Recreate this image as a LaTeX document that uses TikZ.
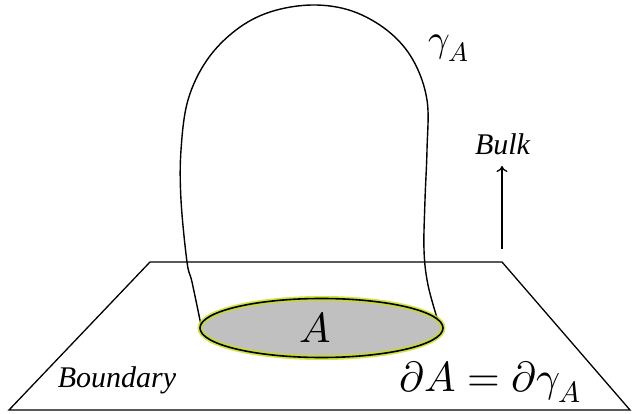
\documentclass[tikz,border=0pt]{standalone}
\usepackage{fontspec}
\usepackage{unicode-math}
\setmainfont{Liberation Serif}
\setmathfont{Latin Modern Math}
\usetikzlibrary{arrows.meta}
\definecolor{halo}{RGB}{200,222,20}
\definecolor{regiongray}{RGB}{192,192,192}
\tikzset{
  thinline/.style={line width=1.3pt, black},
  lbl/.style={anchor=base, inner sep=0pt},
}
\begin{document}
\begin{tikzpicture}[x=1pt,y=-1pt]
\useasboundingbox (0,0) rectangle (633,414);
% boundary plane
\coordinate (p1) at (150,262);
\coordinate (p2) at (502,262);
\coordinate (p3) at (630,410);
\coordinate (p4) at (9,410);
\draw[thinline, line join=miter] (p1) -- (p2) -- (p3) -- (p4) -- cycle;
% minimal surface gamma_A
\draw[thinline, line width=1.4pt] plot[smooth, tension=0.6] coordinates {
 (201,325) (192,282) (187,262) (181,200) (181,150) (188,100) (207,60)
 (236,30) (270,12) (312,5) (352,11) (388,31) (413,60) (427,100)
 (427,150) (425,200) (424,250) (428,285) (438,321)};
% region A
\fill[regiongray] (321.5,328) ellipse [x radius=121.5, y radius=29.5];
\draw[halo, line width=5pt, opacity=0.8] (321.5,328) ellipse [x radius=121.5, y radius=29.5];
\draw[black, line width=1.6pt] (321.5,328) ellipse [x radius=121.5, y radius=29.5];
% labels
\node[lbl] (A) at (315,343) {\fontsize{42}{46}\selectfont$A$};
\node[lbl] (gam) at (449,52) {\fontsize{38}{42}\selectfont$\gamma_A$};
\node[lbl] (bound) at (117,388) {\fontsize{30}{34}\selectfont\itshape Boundary};
\node[lbl] (eq) at (490,392) {\fontsize{42}{46}\selectfont$\partial A=\partial\gamma_A$};
\node[lbl] (bulk) at (502.5,155) {\fontsize{30}{34}\selectfont\itshape Bulk};
\coordinate (arrbot) at (502,249);
\coordinate (arrtop) at (502,166);
\draw[thinline, -{To[length=6pt,width=11pt]}] (arrbot) -- (arrtop);
\end{tikzpicture}
\end{document}
